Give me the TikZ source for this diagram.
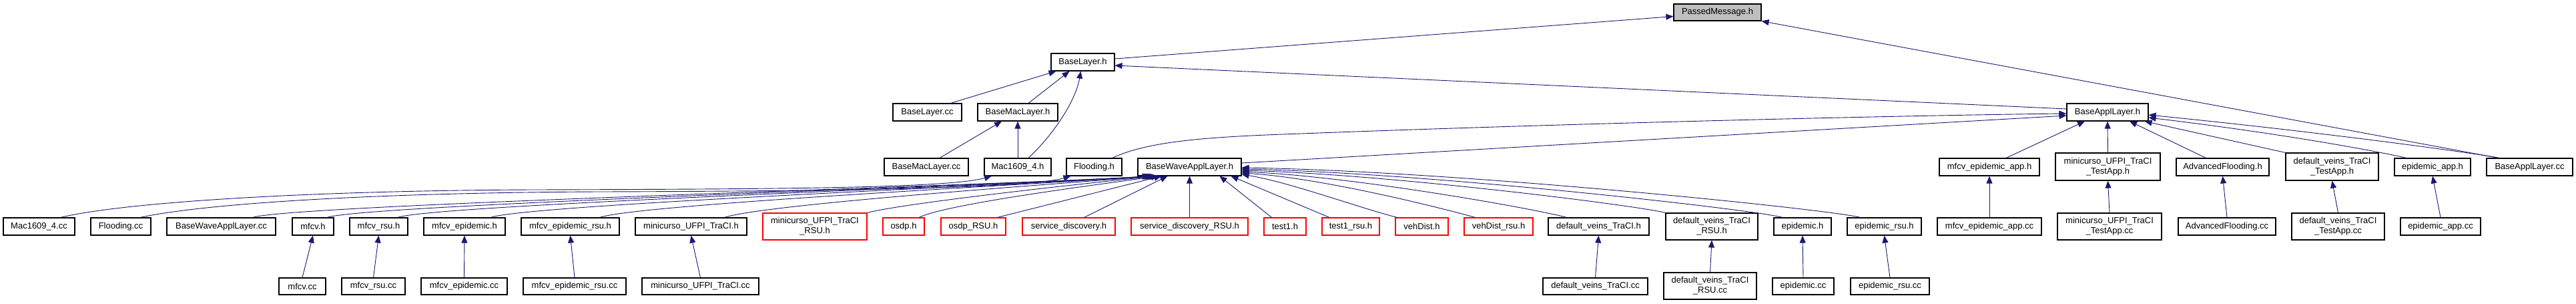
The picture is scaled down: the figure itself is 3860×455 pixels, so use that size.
\documentclass[tikz,border=0pt]{standalone}
\usepackage{fontspec}
\setmainfont{Liberation Sans}
\usetikzlibrary{arrows.meta}
\definecolor{edgeblue}{RGB}{25,25,112}
\definecolor{nodegray}{RGB}{191,191,191}
\definecolor{nodered}{RGB}{255,0,0}
\tikzset{
  box/.style={draw=black, fill=white, line width=1.1pt, inner sep=0pt, align=center,
    font=\fontsize{13}{15}\selectfont, text=black},
  redbox/.style={box, draw=nodered},
  graybox/.style={box, fill=nodegray},
  edge/.style={draw=edgeblue, line width=0.9pt, -{Triangle[length=11pt,width=9pt]}}
}
\newcommand{\mkbox}[7][]{\node[box,#1,minimum width={#5-#3},minimum height={#6-#4}] (#2) at ({(#3+#5)/2},{(#4+#6)/2}) {#7};}
\begin{document}
\begin{tikzpicture}[x=1pt,y=-1pt]
\useasboundingbox (0,0) rectangle (3860,455);
% row 0-2
\mkbox[graybox]{P}{2508}{6}{2639}{31}{PassedMessage.h}
\mkbox{BL}{1575}{80}{1670}{106}{BaseLayer.h}
\mkbox{BLcc}{1338}{155}{1441}{181}{BaseLayer.cc}
\mkbox{BML}{1465}{155}{1585}{181}{BaseMacLayer.h}
\mkbox{BAL}{3097}{155}{3219}{181}{BaseApplLayer.h}
% row 3
\mkbox{BMLcc}{1325}{237}{1451}{263}{BaseMacLayer.cc}
\mkbox{M}{1475}{237}{1575}{263}{Mac1609\_4.h}
\mkbox{F}{1598}{237}{1681}{263}{Flooding.h}
\mkbox{BW}{1705}{237}{1860}{263}{BaseWaveApplLayer.h}
\mkbox{MEA}{2906}{237}{3056}{263}{mfcv\_epidemic\_app.h}
\mkbox{MTA}{3080}{229}{3237}{270}{minicurso\_UFPI\_TraCI\\\_TestApp.h}
\mkbox{AF}{3261}{237}{3400}{263}{AdvancedFlooding.h}
\mkbox{DTA}{3425}{229}{3564}{270}{default\_veins\_TraCI\\\_TestApp.h}
\mkbox{EA}{3588}{237}{3702}{263}{epidemic\_app.h}
\mkbox{BALcc}{3726}{237}{3855}{263}{BaseApplLayer.cc}
% row 4
\mkbox{Mcc}{5}{326}{112}{352}{Mac1609\_4.cc}
\mkbox{Fcc}{136}{326}{226}{352}{Flooding.cc}
\mkbox{BWcc}{250}{326}{413}{352}{BaseWaveApplLayer.cc}
\mkbox{mfcv}{438}{326}{500}{352}{mfcv.h}
\mkbox{mfcvr}{524}{326}{611}{352}{mfcv\_rsu.h}
\mkbox{mfe}{635}{326}{757}{352}{mfcv\_epidemic.h}
\mkbox{mfer}{781}{326}{928}{352}{mfcv\_epidemic\_rsu.h}
\mkbox{mut}{952}{326}{1119}{352}{minicurso\_UFPI\_TraCI.h}
\mkbox[redbox]{mutr}{1143}{319}{1299}{359}{minicurso\_UFPI\_TraCI\\\_RSU.h}
\mkbox[redbox]{osdp}{1323}{326}{1385}{352}{osdp.h}
\mkbox[redbox]{osdpr}{1410}{326}{1507}{352}{osdp\_RSU.h}
\mkbox[redbox]{sd}{1532}{326}{1671}{352}{service\_discovery.h}
\mkbox[redbox]{sdr}{1695}{326}{1870}{352}{service\_discovery\_RSU.h}
\mkbox[redbox]{tone}{1894}{326}{1957}{352}{test1.h}
\mkbox[redbox]{toner}{1981}{326}{2067}{352}{test1\_rsu.h}
\mkbox[redbox]{vd}{2091}{326}{2170}{352}{vehDist.h}
\mkbox[redbox]{vdr}{2194}{326}{2297}{352}{vehDist\_rsu.h}
\mkbox{dvt}{2320}{326}{2471}{352}{default\_veins\_TraCI.h}
\mkbox{dvtr}{2496}{319}{2634}{359}{default\_veins\_TraCI\\\_RSU.h}
\mkbox{ep}{2658}{326}{2744}{352}{epidemic.h}
\mkbox{epr}{2768}{326}{2879}{352}{epidemic\_rsu.h}
\mkbox{MEAcc}{2903}{326}{3059}{352}{mfcv\_epidemic\_app.cc}
\mkbox{MTAcc}{3083}{319}{3239}{359}{minicurso\_UFPI\_TraCI\\\_TestApp.cc}
\mkbox{AFcc}{3264}{326}{3410}{352}{AdvancedFlooding.cc}
\mkbox{DTAcc}{3434}{319}{3573}{359}{default\_veins\_TraCI\\\_TestApp.cc}
\mkbox{EAcc}{3597}{326}{3717}{352}{epidemic\_app.cc}
% row 5
\mkbox{mfcvcc}{418}{416}{488}{441}{mfcv.cc}
\mkbox{mfcvrcc}{512}{416}{607}{441}{mfcv\_rsu.cc}
\mkbox{mfecc}{631}{416}{760}{441}{mfcv\_epidemic.cc}
\mkbox{mfercc}{784}{416}{938}{441}{mfcv\_epidemic\_rsu.cc}
\mkbox{mutcc}{962}{416}{1137}{441}{minicurso\_UFPI\_TraCI.cc}
\mkbox{dvtcc}{2312}{416}{2469}{441}{default\_veins\_TraCI.cc}
\mkbox{dvtrcc}{2493}{408}{2632}{448}{default\_veins\_TraCI\\\_RSU.cc}
\mkbox{epcc}{2656}{416}{2748}{441}{epidemic.cc}
\mkbox{eprcc}{2773}{416}{2891}{441}{epidemic\_rsu.cc}

% ---- edges: top part
\draw[edge] ([yshift=5pt]BL.east) -- ([yshift=-6pt]P.west);
\draw[edge] ([xshift=-47pt]BALcc.north) -- (P.south east);
\draw[edge] ([yshift=5pt]BAL.west) -- ([yshift=-5pt]BL.east);
\draw[edge] ([xshift=35pt]BLcc.north) -- ([xshift=-40pt]BL.south);
\draw[edge] ([xshift=16pt]BML.north) -- ([xshift=-20pt]BL.south);
\draw[edge] ([xshift=16pt]M.north) .. controls (1580,200) and (1612,150) .. ([xshift=-3pt]BL.south);
\draw[edge] ([xshift=20pt]BMLcc.north) -- ([xshift=-24pt]BML.south);
\draw[edge] (M.north) -- (BML.south);
\draw[edge] ([xshift=27pt]F.north) .. controls (1720,212) and (1800,205) .. (1950,200) .. controls (2400,183) and (2900,172) .. ([yshift=-2pt]BAL.west);
\draw[edge] ([yshift=6pt]BW.east) -- ([yshift=-5pt]BAL.west);
% long left edges
\draw[edge] ([xshift=32pt]Mcc.north) .. controls (200,300) and (500,285) .. (800,284) .. controls (1150,283) and (1420,282) .. ([xshift=-39pt]M.south);
\draw[edge] ([xshift=29pt]Fcc.north) .. controls (320,302) and (600,288) .. (900,287) .. controls (1250,286) and (1540,282) .. ([xshift=-35pt]F.south);
% left fan into BaseWaveApplLayer.h
\draw[edge] ([xshift=47pt]BWcc.north) .. controls (440,306) and (1522,277) .. ([xshift=-60pt]BW.south);
\draw[edge] ([xshift=21pt]mfcv.north) .. controls (550,306) and (1524,277) .. ([xshift=-58pt]BW.south);
\draw[edge] ([xshift=28pt]mfcvr.north) .. controls (656,306) and (1526,277) .. ([xshift=-56pt]BW.south);
\draw[edge] ([xshift=39pt]mfe.north) .. controls (795,306) and (1528,277) .. ([xshift=-54pt]BW.south);
\draw[edge] ([xshift=44pt]mfer.north) .. controls (959,306) and (1530,277) .. ([xshift=-52pt]BW.south);
\draw[edge] ([xshift=50pt]mut.north) .. controls (1146,306) and (1560,277) .. ([xshift=-50pt]BW.south);
\draw[edge] (mutr.north east) .. controls (1350,305) and (1600,277) .. ([xshift=-48pt]BW.south);
\draw[edge] ([xshift=23pt]osdp.north) .. controls (1420,305) and (1640,277) .. ([xshift=-46pt]BW.south);
\draw[edge] ([xshift=36pt]osdpr.north) -- ([xshift=-42pt]BW.south);
\draw[edge] ([xshift=23pt]sd.north) -- ([xshift=-33pt]BW.south);
\draw[edge] (sdr.north) -- (BW.south);
\draw[edge] ([xshift=-20pt]tone.north) -- ([xshift=45pt]BW.south);
\draw[edge] ([xshift=-32pt]toner.north) -- ([xshift=62pt]BW.south);
\draw[edge] ([xshift=-37pt]vd.north) .. controls (2040,312) and (1930,272) .. ([yshift=-11pt]BW.east);
% right fan into BaseWaveApplLayer.h
\draw[edge] ([xshift=-35pt]vdr.north) .. controls (2170,314) and (1982,266) .. ([yshift=-9pt]BW.east);
\draw[edge] ([xshift=-48pt]dvt.north) .. controls (2307,314) and (2030,264) .. ([yshift=-7pt]BW.east);
\draw[edge] (dvtr.north west) .. controls (2456,308) and (2083,261) .. ([yshift=-5pt]BW.east);
\draw[edge] ([xshift=-30pt]ep.north) .. controls (2631,314) and (2144,259) .. ([yshift=-3pt]BW.east);
\draw[edge] ([xshift=-36pt]epr.north) .. controls (2747,314) and (2184,256) .. ([yshift=-1pt]BW.east);
% into BaseApplLayer.h
\draw[edge] ([xshift=25pt]MEA.north) -- ([xshift=-34pt]BAL.south);
\draw[edge] (MTA.north) -- (BAL.south);
\draw[edge] ([xshift=-25pt]AF.north) -- ([xshift=33pt]BAL.south);
\draw[edge] (DTA.north west) -- ([xshift=-6pt]BAL.south east);
\draw[edge] ([xshift=-39pt]EA.north) .. controls (3560,226) and (3420,200) .. ([yshift=-8pt]BAL.east);
\draw[edge] ([xshift=-45pt]BALcc.north) .. controls (3700,228) and (3480,198) .. ([yshift=-4pt]BAL.east);
% vertical edges
\draw[edge] (MEAcc.north) -- (MEA.south);
\draw[edge] (MTAcc.north) -- (MTA.south);
\draw[edge] (AFcc.north) -- (AF.south);
\draw[edge] (DTAcc.north) -- (DTA.south);
\draw[edge] (EAcc.north) -- (EA.south);
\draw[edge] (mfcvcc.north) -- (mfcv.south);
\draw[edge] (mfcvrcc.north) -- (mfcvr.south);
\draw[edge] (mfecc.north) -- (mfe.south);
\draw[edge] (mfercc.north) -- (mfer.south);
\draw[edge] (mutcc.north) -- (mut.south);
\draw[edge] (dvtcc.north) -- (dvt.south);
\draw[edge] (dvtrcc.north) -- (dvtr.south);
\draw[edge] (epcc.north) -- (ep.south);
\draw[edge] (eprcc.north) -- (epr.south);
\end{tikzpicture}
\end{document}
